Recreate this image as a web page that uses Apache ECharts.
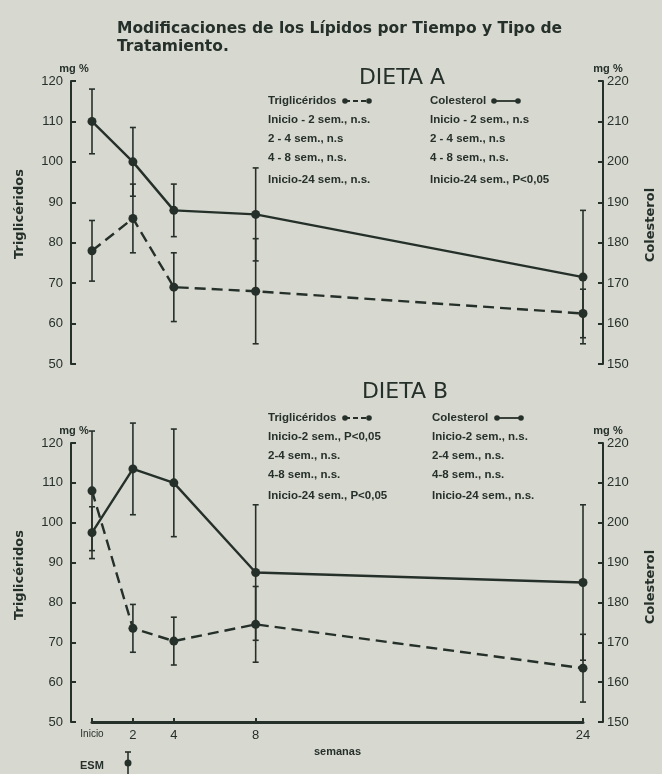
<!DOCTYPE html>
<html>
<head>
<meta charset="utf-8">
<script src="https://cdn.jsdelivr.net/npm/echarts@6/dist/echarts.min.js"></script>
<style>
html,body{margin:0;padding:0;background:#d7d9d0;}
#c{width:662px;height:774px;}
</style>
</head>
<body>
<div id="c"></div>
<script>
// ---- data ----
var weeks = [0, 2, 4, 8, 24];
var weekLabels = ['Inicio', '2', '4', '8', '24'];
var tgTicks = [50, 60, 70, 80, 90, 100, 110, 120];
var colTicks = [150, 160, 170, 180, 190, 200, 210, 220];

// Dieta A
var colA = [210, 200, 188, 187, 171.5];
var colAErr = [8, 8.5, 6.5, 11.5, 16.5];
var tgA = [78, 86, 69, 68, 62.5];
var tgAErr = [7.5, 8.5, 8.5, 13, 6];
// Dieta B
var colB = [197.5, 213.5, 210, 187.5, 185];
var colBErr = [6.5, 11.5, 13.5, 17, 19.5];
var tgB = [108, 73.5, 70.3, 74.5, 63.5];
var tgBErr = [15, 6, 6, 9.5, 8.5];

var titleText = ['Modificaciones de los Lípidos por Tiempo y Tipo de', 'Tratamiento.'];
var legA_tg = ['Inicio - 2 sem., n.s.', '2 - 4 sem., n.s', '4 - 8 sem., n.s.', 'Inicio-24 sem., n.s.'];
var legA_col = ['Inicio - 2 sem., n.s', '2 - 4 sem., n.s', '4 - 8 sem., n.s.', 'Inicio-24 sem., P<0,05'];
var legB_tg = ['Inicio-2 sem., P<0,05', '2-4 sem., n.s.', '4-8 sem., n.s.', 'Inicio-24 sem., P<0,05'];
var legB_col = ['Inicio-2 sem., n.s.', '2-4 sem., n.s.', '4-8 sem., n.s.', 'Inicio-24 sem., n.s.'];

// ---- styles ----
var INK = '#26302a';
var FONT = "'Liberation Sans', Arial, sans-serif";
var DJ = "'DejaVu Sans', sans-serif";

function pts(ys) { return weeks.map(function (w, i) { return [w, ys[i]]; }); }
function errPts(ys, es) { return weeks.map(function (w, i) { return [w, ys[i] - es[i], ys[i] + es[i]]; }); }

function errSeries(xi, yi, ys, es) {
  return {
    type: 'custom', xAxisIndex: xi, yAxisIndex: yi, clip: false, z: 3,
    data: errPts(ys, es),
    encode: { x: 0, y: [1, 2] },
    renderItem: function (params, api) {
      var x = api.value(0);
      var lo = api.coord([x, api.value(1)]);
      var hi = api.coord([x, api.value(2)]);
      var c = 3;
      return {
        type: 'group',
        children: [
          { type: 'line', shape: { x1: lo[0], y1: lo[1], x2: hi[0], y2: hi[1] }, style: { stroke: INK, lineWidth: 1.6 } },
          { type: 'line', shape: { x1: lo[0] - c, y1: lo[1], x2: lo[0] + c, y2: lo[1] }, style: { stroke: INK, lineWidth: 1.6 } },
          { type: 'line', shape: { x1: hi[0] - c, y1: hi[1], x2: hi[0] + c, y2: hi[1] }, style: { stroke: INK, lineWidth: 1.6 } }
        ]
      };
    }
  };
}

function lineSeries(xi, yi, ys, dashed) {
  return {
    type: 'line', xAxisIndex: xi, yAxisIndex: yi, data: pts(ys),
    symbol: 'circle', symbolSize: 9, z: 4,
    itemStyle: { color: INK },
    lineStyle: { color: INK, width: 2.4, type: dashed ? [11, 6] : 'solid' },
    animation: false
  };
}

function yAx(grid, pos, min, max, ticks) {
  return {
    gridIndex: grid, type: 'value', position: pos, offset: pos === 'left' ? 21 : 20,
    min: min, max: max, interval: 10,
    name: 'mg %', nameLocation: 'end', nameGap: 2,
    nameTextStyle: { color: INK, fontFamily: FONT, fontSize: 11, fontWeight: 'bold', align: 'center', padding: pos === 'left' ? [0, 0, 0, 6] : [0, 0, 0, 10] },
    axisLine: { show: true, onZero: false, lineStyle: { color: INK, width: 2 } },
    axisTick: { show: true, inside: true, length: 5, lineStyle: { color: INK, width: 2 } },
    axisLabel: {
      color: INK, fontFamily: FONT, fontSize: 13, margin: pos === 'left' ? 8 : 4,
      formatter: function (v) { return ticks.indexOf(v) >= 0 ? String(v) : ''; }
    },
    splitLine: { show: false }
  };
}

function legendBlock(x0, x1, yRows, tg, col) {
  var out = [];
  var f = "bold 11.5px " + FONT;
  out.push({ type: 'text', x: x0, y: yRows[0], style: { text: 'Triglicéridos', font: f, fill: INK, textVerticalAlign: 'middle' } });
  out.push({ type: 'text', x: x1, y: yRows[0], style: { text: 'Colesterol', font: f, fill: INK, textVerticalAlign: 'middle' } });
  for (var i = 0; i < 4; i++) {
    out.push({ type: 'text', x: x0, y: yRows[i + 1], style: { text: tg[i], font: f, fill: INK, textVerticalAlign: 'middle' } });
    out.push({ type: 'text', x: x1, y: yRows[i + 1], style: { text: col[i], font: f, fill: INK, textVerticalAlign: 'middle' } });
  }
  return out;
}

function legendSym(x, y, dashed) {
  return [
    { type: 'line', shape: { x1: x, y1: y, x2: x + 24, y2: y }, style: { stroke: INK, lineWidth: 1.8, lineDash: dashed ? [5, 3] : null } },
    { type: 'circle', shape: { cx: x, cy: y, r: 2.8 }, style: { fill: INK } },
    { type: 'circle', shape: { cx: x + 24, cy: y, r: 2.8 }, style: { fill: INK } }
  ];
}

var rowsA = [101, 120, 139, 158, 180];
var rowsB = [418, 437, 456, 475, 496];

var graphics = [];
graphics.push({ type: 'text', x: 117, y: 29, style: { text: titleText[0], font: "bold 15.5px " + DJ, fill: INK, textVerticalAlign: 'middle' } });
graphics.push({ type: 'text', x: 117, y: 47, style: { text: titleText[1], font: "bold 15.5px " + DJ, fill: INK, textVerticalAlign: 'middle' } });
graphics.push({ type: 'text', x: 402, y: 78, style: { text: 'DIETA A', font: "22px " + DJ, fill: INK, textAlign: 'center', textVerticalAlign: 'middle' } });
graphics.push({ type: 'text', x: 405, y: 392, style: { text: 'DIETA B', font: "22px " + DJ, fill: INK, textAlign: 'center', textVerticalAlign: 'middle' } });
graphics = graphics.concat(legendBlock(268, 430, rowsA, legA_tg, legA_col));
graphics = graphics.concat(legendBlock(268, 432, rowsB, legB_tg, legB_col));
graphics = graphics.concat(legendSym(345, rowsA[0], true), legendSym(494, rowsA[0], false));
graphics = graphics.concat(legendSym(345, rowsB[0], true), legendSym(497, rowsB[0], false));
// rotated axis titles
[[20, 214, 'Triglicéridos'], [20, 575, 'Triglicéridos'], [651, 225, 'Colesterol'], [651, 587, 'Colesterol']].forEach(function (t) {
  graphics.push({ type: 'text', x: t[0], y: t[1], rotation: Math.PI / 2,
    style: { text: t[2], font: "bold 13px " + DJ, fill: INK, textAlign: 'center', textVerticalAlign: 'middle' } });
});
// ESM key
graphics.push({ type: 'text', x: 80, y: 766, style: { text: 'ESM', font: "bold 11px " + FONT, fill: INK, textVerticalAlign: 'middle' } });
graphics.push({ type: 'line', shape: { x1: 128, y1: 752, x2: 128, y2: 774 }, style: { stroke: INK, lineWidth: 1.6 } });
graphics.push({ type: 'line', shape: { x1: 125, y1: 752, x2: 131, y2: 752 }, style: { stroke: INK, lineWidth: 1.6 } });
graphics.push({ type: 'circle', shape: { cx: 128, cy: 763, r: 3.5 }, style: { fill: INK } });

var option = {
  backgroundColor: '#d7d9d0',
  animation: false,
  grid: [
    { left: 92, right: 79, top: 81, height: 283 },
    { left: 92, right: 79, top: 443, height: 279 }
  ],
  xAxis: [
    { gridIndex: 0, type: 'value', min: 0, max: 24, show: false },
    { gridIndex: 1, type: 'value', min: 0, max: 24,
      name: 'semanas', nameLocation: 'middle', nameGap: 24,
      nameTextStyle: { color: INK, fontFamily: FONT, fontSize: 11, fontWeight: 'bold' },
      axisLine: { show: true, onZero: false, lineStyle: { color: INK, width: 3 } },
      axisTick: { show: true, inside: true, length: 4, customValues: weeks, lineStyle: { color: INK, width: 2 } },
      axisLabel: {
        customValues: weeks, color: INK, fontFamily: FONT, fontSize: 13, margin: 7,
        formatter: function (v) {
          var i = weeks.indexOf(v);
          if (i === 0) return '{s|' + weekLabels[0] + '}';
          return i >= 0 ? weekLabels[i] : '';
        },
        rich: { s: { fontSize: 10, fontFamily: FONT, color: INK } }
      },
      splitLine: { show: false }
    }
  ],
  yAxis: [
    yAx(0, 'left', 50, 120, tgTicks),
    yAx(0, 'right', 150, 220, colTicks),
    yAx(1, 'left', 50, 120, tgTicks),
    yAx(1, 'right', 150, 220, colTicks)
  ],
  series: [
    errSeries(0, 1, colA, colAErr),
    errSeries(0, 0, tgA, tgAErr),
    lineSeries(0, 1, colA, false),
    lineSeries(0, 0, tgA, true),
    errSeries(1, 3, colB, colBErr),
    errSeries(1, 2, tgB, tgBErr),
    lineSeries(1, 3, colB, false),
    lineSeries(1, 2, tgB, true)
  ],
  graphic: graphics
};

var chart = echarts.init(document.getElementById('c'), null, { renderer: 'canvas' });
chart.setOption(option);
</script>
</body>
</html>
